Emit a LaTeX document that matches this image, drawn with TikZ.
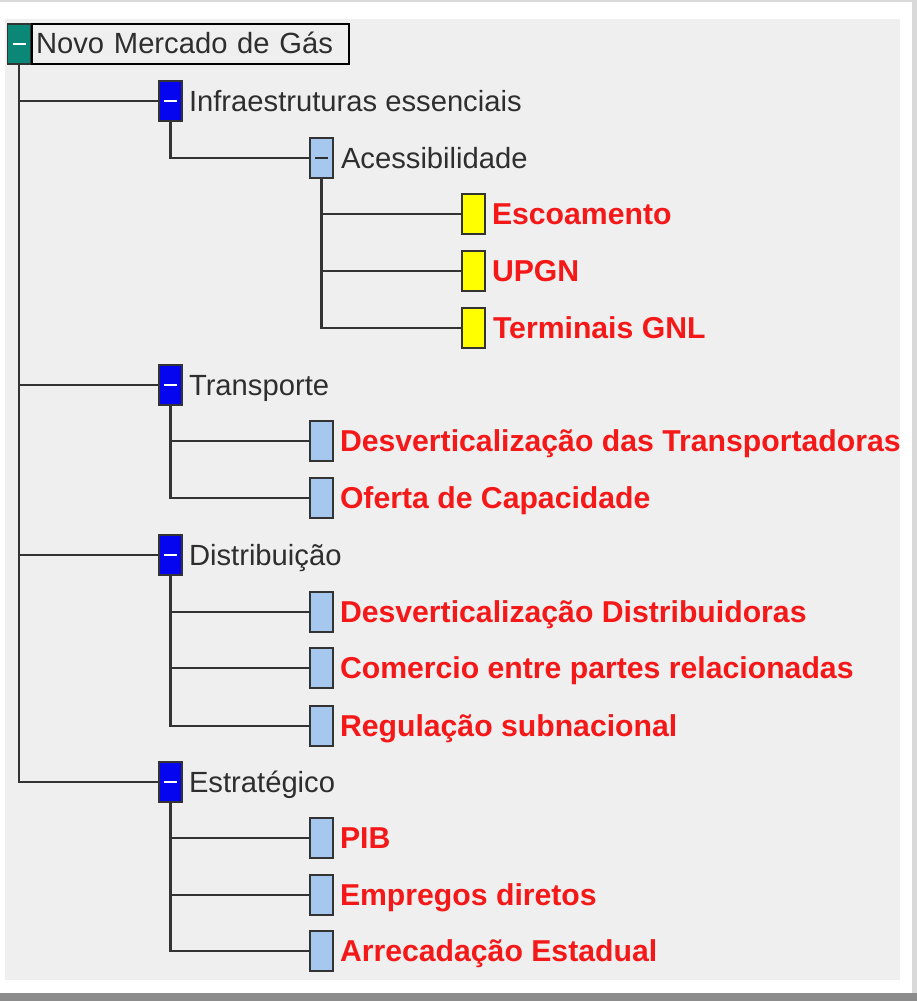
\documentclass[tikz,border=0pt]{standalone}
\usepackage{fontspec}
\setmainfont{Liberation Sans}
\definecolor{panel}{HTML}{EFEFEF}
\definecolor{teal1}{HTML}{0B8778}
\definecolor{blue1}{HTML}{0505F0}
\definecolor{lblue}{HTML}{A6C8EE}
\definecolor{yel}{HTML}{FFFF00}
\definecolor{redt}{HTML}{F51818}
\definecolor{darkt}{HTML}{2E2E2E}
\definecolor{linec}{HTML}{333333}
\begin{document}
\begin{tikzpicture}[x=1pt,y=-1pt,
  tbox/.style={draw=linec,line width=1.6pt,minimum width=23pt,minimum height=40pt,inner sep=0pt},
  minusw/.style={path picture={\draw[white,line width=2pt] ([xshift=-6.5pt]path picture bounding box.center) -- ([xshift=6.5pt]path picture bounding box.center);}},
  minusd/.style={path picture={\draw[darkt,line width=2pt] ([xshift=-6.5pt]path picture bounding box.center) -- ([xshift=6.5pt]path picture bounding box.center);}},
  rootbox/.style={tbox,fill=teal1,minusw},
  l1box/.style={tbox,fill=blue1,minusw},
  l2box/.style={tbox,fill=lblue,minusd},
  leafb/.style={tbox,fill=lblue},
  leafy/.style={tbox,fill=yel},
  blab/.style={anchor=base west,inner sep=0pt,text=darkt,font=\fontsize{29.2}{34}\selectfont},
  rlab/.style={anchor=base west,inner sep=0pt,text=redt,font=\fontsize{30.2}{35}\selectfont\bfseries},
  conn/.style={draw=linec,line width=2.2pt}
]
\useasboundingbox (0,0) rectangle (917,1001);
% frame
\fill[white] (0,0) rectangle (917,1001);
\fill[panel] (5,19) rectangle (900,980);
\fill[black!45] (0,993) rectangle (917,1001);
\fill[black!15] (912,0) rectangle (917,993);
\fill[black!15] (0,0) rectangle (917,1.5);

% boxes
\node[rootbox] (root) at (19,44) {};
\node[draw=black,line width=1.5pt,anchor=west,minimum width=317pt,minimum height=40pt,
      text width=309pt,align=left,inner xsep=4pt,inner ysep=0pt,text height=23pt,text depth=4pt,
      text=darkt,font=\fontsize{29.2}{34}\selectfont] (rootl) at (root.east) {Novo Mercado de Gás};

\node[l1box] (inf) at (170.5,101) {};
\node[l2box] (ace) at (321.5,158) {};
\node[leafy] (esc) at (473.5,214) {};
\node[leafy] (upg) at (473.5,271) {};
\node[leafy] (ter) at (473.5,328) {};

\node[l1box] (tra) at (170.5,385) {};
\node[leafb] (dt) at (321.5,441) {};
\node[leafb] (of) at (321.5,498) {};

\node[l1box] (dis) at (170.5,555) {};
\node[leafb] (dd) at (321.5,612) {};
\node[leafb] (co) at (321.5,668) {};
\node[leafb] (re) at (321.5,726) {};

\node[l1box] (est) at (170.5,782) {};
\node[leafb] (pib) at (321.5,838) {};
\node[leafb] (emp) at (321.5,895) {};
\node[leafb] (arr) at (321.5,951) {};

% labels
\node[blab] (infl) at ([xshift=6pt,yshift=-10pt]inf.east) {Infraestruturas essenciais};
\node[blab] (acel) at ([xshift=7pt,yshift=-10pt]ace.east) {Acessibilidade};
\node[rlab] (escl) at ([xshift=6pt,yshift=-10.5pt]esc.east) {Escoamento};
\node[rlab] (upgl) at ([xshift=6pt,yshift=-10.5pt]upg.east) {UPGN};
\node[rlab] (terl) at ([xshift=7pt,yshift=-10.5pt]ter.east) {Terminais GNL};
\node[blab] (tral) at ([xshift=6pt,yshift=-10pt]tra.east) {Transporte};
\node[rlab] (dtl) at ([xshift=6pt,yshift=-10.5pt]dt.east) {Desverticalização das Transportadoras};
\node[rlab] (ofl) at ([xshift=6pt,yshift=-10.5pt]of.east) {Oferta de Capacidade};
\node[blab] (disl) at ([xshift=6pt,yshift=-10pt]dis.east) {Distribuição};
\node[rlab] (ddl) at ([xshift=6pt,yshift=-10.5pt]dd.east) {Desverticalização Distribuidoras};
\node[rlab] (col) at ([xshift=6pt,yshift=-10.5pt]co.east) {Comercio entre partes relacionadas};
\node[rlab] (rel) at ([xshift=6pt,yshift=-10.5pt]re.east) {Regulação subnacional};
\node[blab] (estl) at ([xshift=6pt,yshift=-10pt]est.east) {Estratégico};
\node[rlab] (pibl) at ([xshift=6pt,yshift=-10.5pt]pib.east) {PIB};
\node[rlab] (empl) at ([xshift=6pt,yshift=-10.5pt]emp.east) {Empregos diretos};
\node[rlab] (arrl) at ([xshift=6pt,yshift=-10.5pt]arr.east) {Arrecadação Estadual};

% connectors
\draw[conn] (root.south) |- (inf.west);
\draw[conn] (root.south) |- (tra.west);
\draw[conn] (root.south) |- (dis.west);
\draw[conn] (root.south) |- (est.west);
\draw[conn] (inf.south) |- (ace.west);
\draw[conn] (ace.south) |- (esc.west);
\draw[conn] (ace.south) |- (upg.west);
\draw[conn] (ace.south) |- (ter.west);
\draw[conn] (tra.south) |- (dt.west);
\draw[conn] (tra.south) |- (of.west);
\draw[conn] (dis.south) |- (dd.west);
\draw[conn] (dis.south) |- (co.west);
\draw[conn] (dis.south) |- (re.west);
\draw[conn] (est.south) |- (pib.west);
\draw[conn] (est.south) |- (emp.west);
\draw[conn] (est.south) |- (arr.west);
\end{tikzpicture}
\end{document}
